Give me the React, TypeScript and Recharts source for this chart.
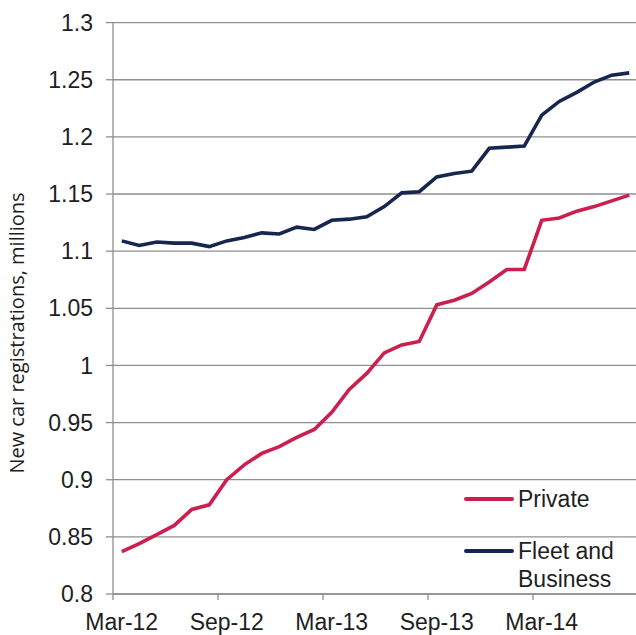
import { LineChart, Line, XAxis, YAxis, CartesianGrid, Legend } from "recharts";

const months = [
  "Mar-12", "Apr-12", "May-12", "Jun-12", "Jul-12", "Aug-12",
  "Sep-12", "Oct-12", "Nov-12", "Dec-12", "Jan-13", "Feb-13",
  "Mar-13", "Apr-13", "May-13", "Jun-13", "Jul-13", "Aug-13",
  "Sep-13", "Oct-13", "Nov-13", "Dec-13", "Jan-14", "Feb-14",
  "Mar-14", "Apr-14", "May-14", "Jun-14", "Jul-14", "Aug-14",
];

const privateRegs = [
  0.837, 0.844, 0.852, 0.86, 0.874, 0.878,
  0.9, 0.913, 0.923, 0.929, 0.937, 0.944,
  0.959, 0.979, 0.993, 1.011, 1.018, 1.021,
  1.053, 1.057, 1.063, 1.073, 1.084, 1.084,
  1.127, 1.129, 1.135, 1.139, 1.144, 1.149,
];

const fleetRegs = [
  1.109, 1.105, 1.108, 1.107, 1.107, 1.104,
  1.109, 1.112, 1.116, 1.115, 1.121, 1.119,
  1.127, 1.128, 1.13, 1.139, 1.151, 1.152,
  1.165, 1.168, 1.17, 1.19, 1.191, 1.192,
  1.219, 1.231, 1.239, 1.248, 1.254, 1.256,
];

const yTicks = [0.8, 0.85, 0.9, 0.95, 1, 1.05, 1.1, 1.15, 1.2, 1.25, 1.3];

const data = months.map((m, i) => ({
  month: m,
  private: privateRegs[i],
  fleet: fleetRegs[i],
}));

const FONT = "'Liberation Sans', Arial, sans-serif";
const GRID = "#8f8f8f";
const TEXT = "#1e1e1e";
const HALF_BAND = 8.75;

function MonthTick(props: any) {
  const { x, y, payload } = props;
  return (
    <g>
      <line x1={x - HALF_BAND} x2={x - HALF_BAND} y1={y} y2={y + 6} stroke={GRID} strokeWidth={1.3} />
      <text x={x} y={y + 36} textAnchor="middle" fontSize={23} fontFamily={FONT} fill={TEXT}>
        {payload.value}
      </text>
    </g>
  );
}

function AxisTitle() {
  const cx = 24;
  const cy = 333;
  return (
    <text
      x={cx}
      y={cy}
      transform={`rotate(-90, ${cx}, ${cy})`}
      textAnchor="middle"
      fontSize={20}
      fontFamily="'Open Sans', sans-serif"
      fill={TEXT}
    >
      New car registrations, millions
    </text>
  );
}

function LegendBox(props: any) {
  const { payload } = props;
  return (
    <div style={{ fontFamily: FONT, fontSize: 23, color: TEXT, lineHeight: "28px" }}>
      {payload.map((p: any) => (
        <div key={p.value} style={{ display: "flex", alignItems: "flex-start", marginBottom: 24 }}>
          <div
            style={{
              width: 50,
              height: 4,
              background: p.color,
              borderRadius: 2,
              marginTop: 12,
              marginRight: 4,
              flexShrink: 0,
            }}
          />
          <div style={{ width: 110 }}>{p.value}</div>
        </div>
      ))}
    </div>
  );
}

export default function App() {
  return (
    <div style={{ position: "absolute", left: 0, top: 0, width: 636, height: 635, overflow: "hidden", background: "#fff" }}>
      <LineChart width={640} height={635} data={data} margin={{ top: 22.6, right: 2, bottom: 0, left: 0 }}>
        <CartesianGrid vertical={false} stroke={GRID} strokeWidth={1.3} />
        <XAxis
          dataKey="month"
          height={41}
          padding={{ left: HALF_BAND, right: HALF_BAND }}
          interval={5}
          tickLine={false}
          tickSize={0}
          tickMargin={0}
          tick={<MonthTick />}
          axisLine={{ stroke: GRID, strokeWidth: 1.3 }}
        />
        <YAxis
          width={113}
          domain={[0.8, 1.3]}
          ticks={yTicks}
          interval={0}
          tickSize={7}
          tickMargin={13}
          tickLine={{ stroke: GRID, strokeWidth: 1.3 }}
          axisLine={{ stroke: GRID, strokeWidth: 1.3 }}
          tick={{ fontSize: 23, fontFamily: FONT, fill: TEXT }}
          label={{ content: <AxisTitle /> }}
        />
        <Legend
          content={<LegendBox />}
          layout="vertical"
          align="center"
          verticalAlign="middle"
          itemSorter={(item: any) => (item.dataKey === "private" ? 0 : 1)}
          wrapperStyle={{ position: "absolute", left: 464, top: 485, width: 172 }}
        />
        <Line
          type="linear"
          dataKey="private"
          name="Private"
          stroke="#cc1f4e"
          strokeWidth={3.6}
          dot={false}
          isAnimationActive={false}
        />
        <Line
          type="linear"
          dataKey="fleet"
          name="Fleet and Business"
          stroke="#16264f"
          strokeWidth={3.6}
          dot={false}
          isAnimationActive={false}
        />
      </LineChart>
    </div>
  );
}
